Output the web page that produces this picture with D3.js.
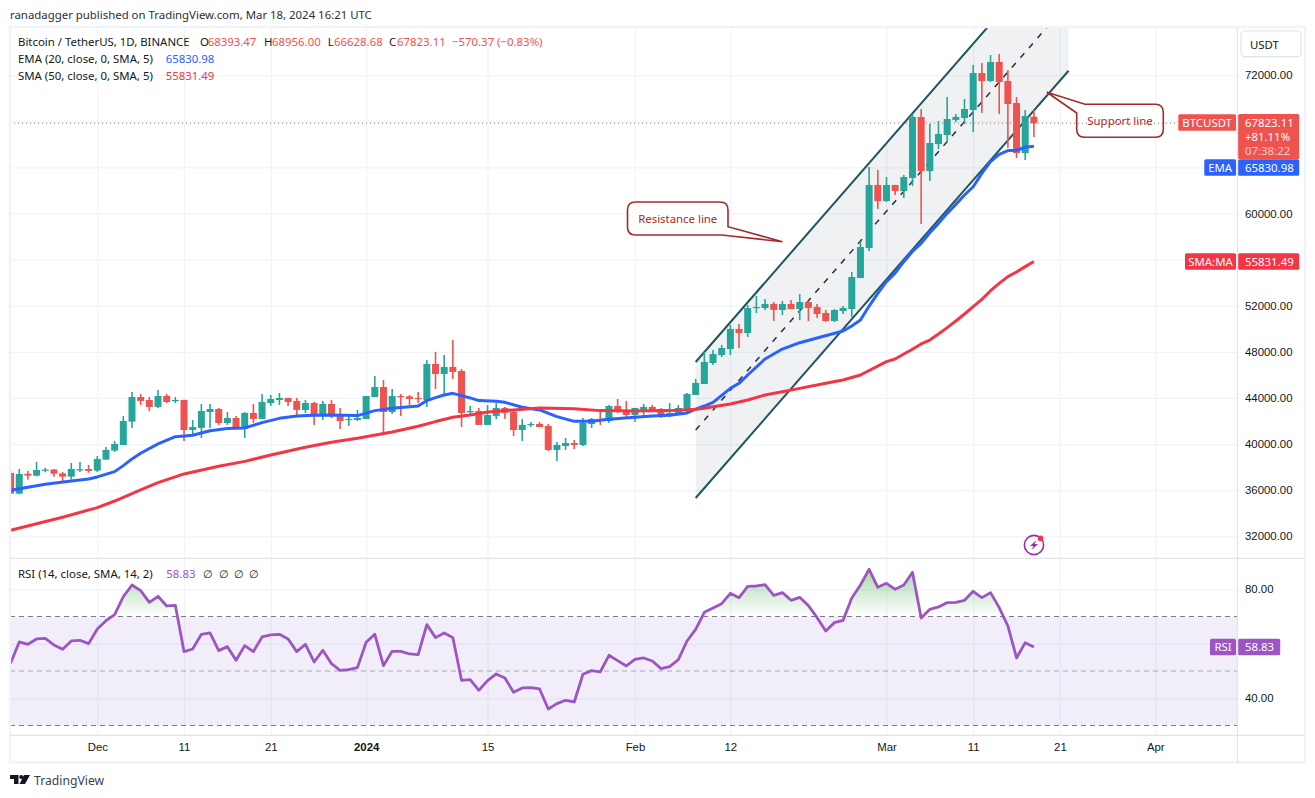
<!DOCTYPE html>
<html>
  <head>
    <meta charset="utf-8" />
    <title>Bitcoin / TetherUS, 1D</title>
    <script src="https://d3js.org/d3.v7.min.js"></script>
    <style>
      html, body { margin: 0; background: #fff; }
      svg { display: block; font-family: "Noto Sans", sans-serif; }
      text { fill: #131722; font-size: 11.4px; }
    </style>
  </head>
  <body>
    <svg width="1315" height="798"></svg>

    <script>
      // Daily candles, Nov 21 2023 to Mar 18 2024
      const firstDay = new Date(Date.UTC(2023, 10, 21));
      const opens = [
        37490, 35700, 37430, 37260, 37700, 37790, 37450, 37175, 37760, 37840,
        37700, 38650, 39430, 39920, 41945, 44080, 43820, 43220, 44170, 43740, 43820, 41220, 41400, 42780, 43040, 41830, 42260, 41310, 42700, 42180, 43560, 43820, 44000, 43740, 42960, 43560, 42520, 43480, 42610, 42120, 42090,
        42180, 44080, 44950, 42780, 44170, 44130, 44000, 43820, 46950, 46080, 46690, 46340, 42780, 42870, 41660, 42440, 43130, 42780, 41220, 41660, 41740, 41570, 39490, 39830, 40090, 39920, 41740, 42180, 42000, 43300, 42960,
        42520, 42960, 43220, 43040, 42520, 42610, 42960, 44260, 45210, 47030, 47720, 48245, 49980, 49630, 51800, 51800, 52150, 51630, 52150, 51710, 52320, 51890, 51370, 50670, 51540, 51710, 54400, 57000, 62470,
        61080, 62470, 61950, 63080, 68370, 63680, 66020, 66800, 68110, 68280, 68970, 72180, 71490, 73140, 71490, 69580, 65240, 68393.47,
      ];
      const highs = [
        37670, 37840, 37670, 38450, 37930, 37840, 37580, 38360, 38450, 38190,
        38970, 39750, 40270, 42440, 44520, 44340, 44080, 44690, 44340, 44080, 43850, 42090, 43480, 43480, 43130, 42780, 42440, 42780, 43480, 44340, 44260, 44430, 44020, 44000, 43820, 43650, 43740, 43820, 43130, 42520, 42960,
        44180, 45900, 45560, 44780, 44340, 44260, 44520, 47290, 47990, 47730, 49030, 46510, 43300, 43130, 43390, 43560, 43220, 42960, 42180, 41920, 41920, 41740, 40180, 40530, 40350, 42260, 42260, 42870, 43390, 43910, 43740,
        43140, 43480, 43390, 43130, 43560, 43390, 44430, 45650, 47990, 48160, 48590, 50330, 50410, 52060, 52840, 52580, 52320, 52410, 52490, 53010, 52410, 52150, 51630, 51710, 51970, 54920, 57610, 64030, 63770,
        63160, 62480, 63340, 68630, 69060, 67760, 68020, 70100, 68630, 69930, 72880, 73050, 73740, 73830, 72440, 70100, 68970, 68956,
      ];
      const lows = [
        35700, 35650, 36915, 37200, 37550, 37175, 36710, 36915, 37580, 37520,
        37580, 38650, 39310, 39920, 41400, 43390, 42870, 43130, 43560, 43560, 40270, 40700, 40530, 41400, 41660, 41660, 41310, 40530, 41830, 42180, 43300, 43390, 43300, 42440, 42700, 41660, 42090, 42260, 41310, 41570, 42000,
        42170, 44080, 40790, 42610, 42440, 43390, 43560, 43220, 44780, 44340, 45650, 41480, 42440, 41650, 41650, 42180, 42180, 40700, 40270, 41480, 41470, 39400, 38530, 39490, 39570, 39830, 41400, 41660, 41830, 42700, 42260,
        41920, 42520, 42780, 42260, 42350, 42600, 42780, 44250, 45200, 46860, 47550, 47720, 48330, 49290, 51370, 51630, 50670, 51190, 51700, 50760, 50670, 50930, 50590, 50590, 51280, 51020, 54400, 56740, 60390,
        60990, 61600, 61340, 62380, 59090, 62820, 65590, 66200, 67930, 67760, 67060, 68710, 71400, 68630, 65680, 64810, 64640, 66628.68,
      ];
      const closes = [
        35700, 37410, 37260, 37750, 37790, 37430, 37175, 37840, 37810, 37670,
        38710, 39490, 40010, 42000, 44080, 43740, 43220, 44170, 43650, 43820, 41220, 41480, 42870, 43040, 41830, 42260, 41310, 42700, 42180, 43650, 43910, 44000, 43650, 42960, 43560, 42440, 43480, 42520, 42000, 42180, 42260,
        44170, 44950, 42780, 44170, 44080, 43910, 43910, 46950, 46080, 46690, 46250, 42700, 42870, 41660, 42520, 43130, 42700, 41220, 41660, 41740, 41480, 39490, 39920, 40090, 39920, 41830, 42180, 42000, 43300, 42780, 42520,
        43130, 43220, 42870, 42520, 42700, 43130, 44340, 45300, 47120, 47810, 48330, 49980, 49630, 51800, 51890, 52150, 51630, 52150, 51710, 52320, 51800, 51280, 50670, 51630, 51800, 54490, 57090, 62470, 61080,
        62470, 61950, 63160, 68370, 63680, 66110, 66890, 68190, 68370, 69060, 72180, 71490, 73140, 71400, 69490, 65240, 68450, 67823.11,
      ];

      // RSI, one value per candle
      const rsiValues = [
        52.84, 60.67, 59.82, 61.77, 62.02, 59.57, 57.98, 61.04, 61.28, 60.06,
        65.44, 68.5, 70.7, 77.31, 81.59, 79.51, 75.23, 77.43, 73.88, 74.13, 57.13, 58.1, 63.49, 63.98, 57.49, 58.96, 53.94, 59.33, 57.13, 62.51, 63.24, 63.49, 61.77, 57.13, 59.82, 53.33, 57.61, 52.72, 50.28, 50.52, 51.25,
        60.55, 63.49, 51.99, 57.25, 57.25, 56.27, 56.02, 67.03, 62.26, 63.98, 62.26, 46.61, 46.85, 42.94, 46.48, 48.93, 47.46, 42.2, 43.79, 43.91, 43.42, 36.09, 38.04, 39.27, 38.65, 48.81, 50.15, 49.66, 55.78, 53.82, 51.87,
        54.31, 54.8, 53.7, 50.89, 51.62, 54.19, 61.04, 65.32, 71.56, 73.15, 74.74, 78.53, 76.94, 81.1, 81.22, 81.71, 77.8, 78.78, 75.96, 77.06, 74.01, 69.6, 64.71, 67.77, 68.62, 76.82, 81.59, 87.34, 80.73,
        82.2, 80, 81.59, 86.24, 69.48, 72.66, 73.52, 75.11, 75.23, 75.96, 79.27, 76.94, 78.78, 73.27, 66.54, 54.8, 60.43, 58.83,
      ];

      // Moving averages, read at the days where the line bends
      const emaDates = [
        "2023-11-21", "2023-11-25", "2023-11-28", "2023-11-30", "2023-12-01", "2023-12-03", "2023-12-04", "2023-12-05", "2023-12-06", "2023-12-08", "2023-12-10", "2023-12-12", "2023-12-14", "2023-12-16", "2023-12-18", "2023-12-20", "2023-12-22", "2023-12-24", "2023-12-26", "2023-12-28", "2023-12-31",
        "2024-01-02", "2024-01-04", "2024-01-07", "2024-01-08", "2024-01-09", "2024-01-10", "2024-01-11", "2024-01-12", "2024-01-13", "2024-01-14", "2024-01-16", "2024-01-17", "2024-01-19", "2024-01-21", "2024-01-23", "2024-01-25", "2024-01-27", "2024-01-29",
        "2024-02-01", "2024-02-03", "2024-02-05", "2024-02-07", "2024-02-08", "2024-02-09", "2024-02-10", "2024-02-12", "2024-02-13", "2024-02-14", "2024-02-16", "2024-02-18", "2024-02-20", "2024-02-22", "2024-02-25", "2024-02-26", "2024-02-27", "2024-02-28", "2024-02-29",
        "2024-03-01", "2024-03-02", "2024-03-03", "2024-03-04", "2024-03-05", "2024-03-06", "2024-03-07", "2024-03-08", "2024-03-09", "2024-03-10", "2024-03-11", "2024-03-12", "2024-03-13", "2024-03-14", "2024-03-15", "2024-03-16", "2024-03-17", "2024-03-18",
      ];
      const emaValues = [
        35990, 36510, 36800, 36970, 37150, 37610, 38130, 38710, 39200, 40010, 40640, 40760, 41160, 41340, 41400, 41860, 42230, 42440, 42490, 42520, 42470,
        42900, 43100, 43300, 43770, 44030, 44260, 44400, 44200, 44000, 43770, 43710, 43620, 43190, 42960, 42380, 41970, 41970, 42150,
        42320, 42440, 42490, 42700, 43020, 43300, 43620, 44830, 45270, 45990, 47380, 48240, 48790, 49200, 49810, 50240, 50760, 51970, 53070,
        54080, 54830, 55820, 56700, 57410, 58330, 59140, 60010, 60790, 61600, 62320, 63480, 64490, 65130, 65450, 65480, 65740, 65830.98,
      ];
      const smaDates = [
        "2023-11-21", "2023-11-27", "2023-12-01", "2023-12-03", "2023-12-06", "2023-12-08", "2023-12-11", "2023-12-15", "2023-12-18", "2023-12-21", "2023-12-25", "2023-12-28", "2023-12-31",
        "2024-01-04", "2024-01-07", "2024-01-09", "2024-01-11", "2024-01-13", "2024-01-15", "2024-01-18", "2024-01-21", "2024-01-25", "2024-01-28",
        "2024-02-01", "2024-02-05", "2024-02-08", "2024-02-09", "2024-02-10", "2024-02-12", "2024-02-14", "2024-02-16", "2024-02-18", "2024-02-20", "2024-02-23", "2024-02-25", "2024-02-27",
        "2024-03-01", "2024-03-02", "2024-03-03", "2024-03-04", "2024-03-05", "2024-03-06", "2024-03-07", "2024-03-08", "2024-03-09", "2024-03-10", "2024-03-11", "2024-03-12", "2024-03-13", "2024-03-14", "2024-03-15", "2024-03-16", "2024-03-17", "2024-03-18",
      ];
      const smaValues = [
        32520, 33650, 34490, 35060, 36020, 36650, 37410, 38070, 38500, 39050, 39720, 40150, 40500,
        41050, 41540, 41950, 42320, 42520, 42780, 42960, 43130, 43070, 42900,
        42870, 42900, 43020, 43100, 43240, 43470, 43820, 44260, 44540, 44830, 45270, 45560, 45990,
        47150, 47380, 47810, 48220, 48680, 49020, 49550, 50100, 50670, 51280, 51920, 52550, 53300, 53940, 54520, 54920, 55390, 55831.49,
      ];

      // Rising channel drawn on the chart: start and end of each line
      const channelDates = ["2024-02-08", "2024-03-22"];
      const channelUpper = [47117, 84210];
      const channelMiddle = [41220, 78300];
      const channelLower = [35320, 72380];

      // Axis ticks
      const priceGrid = [32000, 36000, 40000, 44000, 48000, 52000, 56000, 60000, 64000, 68000, 72000];
      const priceLabels = [32000, 36000, 40000, 44000, 48000, 52000, 60000, 72000];
      const rsiGrid = [40, 60, 80];
      const rsiLabels = [40, 80];
      const rsiLevels = [70, 50, 30];
      const timeTicks = ["2023-12-01", "2023-12-11", "2023-12-21", "2024-01-01", "2024-01-15", "2024-02-01", "2024-02-12", "2024-03-01", "2024-03-11", "2024-03-21", "2024-04-01"];
      const timeLabels = ["Dec", "11", "21", "2024", "15", "Feb", "12", "Mar", "11", "21", "Apr"];

      const colors = { up: "#26a69a", down: "#ef5350", ema: "#2962ff", sma: "#f23645", rsi: "#9c55c2", grid: "#f0f3fa", border: "#e0e3eb", note: "#a52a2a" };

      const parseDay = d3.utcParse("%Y-%m-%d");
      const days = opens.map((_, i) => d3.utcDay.offset(firstDay, i));

      const svg = d3.select("svg");

      // Pane edges
      const paneLeft = 10, paneRight = 1237.5, paneTop = 28, mainBottom = 558.3, rsiBottom = 735.3, frameBottom = 762.5;

      const x = d3.scaleUtc().domain([parseDay("2023-12-01"), parseDay("2024-04-01")]).range([97.3, 1155.3]);
      const y = d3.scaleLinear().domain([32000, 72000]).range([536.3, 75.1]);
      const yRsi = d3.scaleLinear().domain([40, 80]).range([698.3, 589.3]);

      const defs = svg.append("defs");
      defs.append("clipPath").attr("id", "mainClip").append("rect")
        .attr("x", paneLeft).attr("y", paneTop).attr("width", paneRight - paneLeft).attr("height", mainBottom - paneTop);
      defs.append("clipPath").attr("id", "rsiClip").append("rect")
        .attr("x", paneLeft).attr("y", mainBottom).attr("width", paneRight - paneLeft).attr("height", rsiBottom - mainBottom);
      defs.append("clipPath").attr("id", "obClip").append("rect")
        .attr("x", paneLeft).attr("y", mainBottom).attr("width", paneRight - paneLeft).attr("height", yRsi(70) - mainBottom);
      const grad = defs.append("linearGradient").attr("id", "obFill")
        .attr("gradientUnits", "userSpaceOnUse").attr("x1", 0).attr("x2", 0).attr("y1", yRsi(88)).attr("y2", yRsi(70));
      grad.append("stop").attr("offset", 0).attr("stop-color", "#4caf50").attr("stop-opacity", 0.5);
      grad.append("stop").attr("offset", 1).attr("stop-color", "#4caf50").attr("stop-opacity", 0);

      // Grid lines come from axes with full length ticks
      function gridAxis(axis) {
        return (g) => {
          g.call(axis);
          g.select(".domain").remove();
          g.selectAll("text").remove();
          g.selectAll("line").attr("stroke", colors.grid).attr("stroke-width", 1.2);
        };
      }
      const timeValues = timeTicks.map(parseDay);
      svg.append("g").attr("transform", `translate(0,${paneTop})`)
        .call(gridAxis(d3.axisBottom(x).tickValues(timeValues).tickSize(rsiBottom - paneTop)));
      svg.append("g").attr("transform", `translate(${paneLeft},0)`)
        .call(gridAxis(d3.axisRight(y).tickValues(priceGrid).tickSize(paneRight - paneLeft)));
      svg.append("g").attr("transform", `translate(${paneLeft},0)`)
        .call(gridAxis(d3.axisRight(yRsi).tickValues(rsiGrid).tickSize(paneRight - paneLeft)));

      // Main pane
      const main = svg.append("g").attr("clip-path", "url(#mainClip)");

      const channelX = channelDates.map((d) => x(parseDay(d)));
      main.append("path")
        .attr("d", `M${channelX[0]},${y(channelUpper[0])}L${channelX[1]},${y(channelUpper[1])}L${channelX[1]},${y(channelLower[1])}L${channelX[0]},${y(channelLower[0])}Z`)
        .attr("fill", "#787b86").attr("fill-opacity", 0.11);
      [channelUpper, channelLower].forEach((line) => {
        main.append("line")
          .attr("x1", channelX[0]).attr("y1", y(line[0]))
          .attr("x2", channelX[1]).attr("y2", y(line[1]))
          .attr("stroke", "#1f5560").attr("stroke-width", 2);
      });
      main.append("line")
        .attr("x1", channelX[0]).attr("y1", y(channelMiddle[0]))
        .attr("x2", channelX[1]).attr("y2", y(channelMiddle[1]))
        .attr("stroke", "#2a2e39").attr("stroke-width", 1.5).attr("stroke-dasharray", "6,7");

      // Candles
      const candle = main.selectAll(".candle").data(days).enter().append("g").attr("class", "candle")
        .attr("fill", (d, i) => (closes[i] >= opens[i] ? colors.up : colors.down))
        .attr("stroke", "none");
      candle.append("rect")
        .attr("x", (d) => x(d) - 0.8).attr("width", 1.6)
        .attr("y", (d, i) => y(highs[i]))
        .attr("height", (d, i) => y(lows[i]) - y(highs[i]));
      candle.append("rect")
        .attr("x", (d) => x(d) - 3.5).attr("width", 7)
        .attr("y", (d, i) => y(Math.max(opens[i], closes[i])))
        .attr("height", (d, i) => Math.max(1.2, Math.abs(y(opens[i]) - y(closes[i]))));

      const priceLine = d3.line().x((d) => x(d.day)).y((d) => y(d.value));
      const emaData = emaDates.map((d, i) => ({ day: parseDay(d), value: emaValues[i] }));
      const smaData = smaDates.map((d, i) => ({ day: parseDay(d), value: smaValues[i] }));
      main.append("path").datum(emaData).attr("d", priceLine)
        .attr("fill", "none").attr("stroke", colors.ema).attr("stroke-width", 3).attr("stroke-linejoin", "round");
      main.append("path").datum(smaData).attr("d", priceLine)
        .attr("fill", "none").attr("stroke", colors.sma).attr("stroke-width", 3).attr("stroke-linejoin", "round");

      // Callouts with their tails
      function callout(label, x0, y0, x1, y1, tip, tail) {
        const r = 8;
        let d = tail.side === "top" ? `M${tail.a},${y0}` : `M${x0 + r},${y0}`;
        d += `L${x1 - r},${y0}Q${x1},${y0} ${x1},${y0 + r}`;
        if (tail.side === "right") d += `L${x1},${tail.a}L${tip[0]},${tip[1]}L${tail.b},${y1}`;
        else d += `L${x1},${y1 - r}Q${x1},${y1} ${x1 - r},${y1}`;
        d += `L${x0 + r},${y1}Q${x0},${y1} ${x0},${y1 - r}`;
        if (tail.side === "top") d += `L${tail.b},${tail.c}L${tip[0]},${tip[1]}Z`;
        else d += `L${x0},${y0 + r}Q${x0},${y0} ${x0 + r},${y0}Z`;
        svg.append("path").attr("d", d).attr("fill", "#fff").attr("stroke", colors.note).attr("stroke-width", 1.6);
        svg.append("text").attr("x", (x0 + x1) / 2).attr("y", (y0 + y1) / 2 + 4)
          .attr("text-anchor", "middle").style("fill", colors.note).text(label);
      }
      callout("Resistance line", 627.5, 202, 728, 235,
        [x(parseDay("2024-02-18")), y(57550)], { side: "right", a: 226.7, b: 721.7 });
      callout("Support line", 1076.7, 104.3, 1163.3, 137.3,
        [x(new Date(Date.UTC(2024, 2, 19, 12))), y(70510)], { side: "top", a: 1085, b: 1076.7, c: 113 });

      // Last price line
      svg.append("line")
        .attr("x1", paneLeft).attr("x2", 1178)
        .attr("y1", y(closes[closes.length - 1])).attr("y2", y(closes[closes.length - 1]))
        .attr("stroke", colors.down).attr("stroke-dasharray", "1,3");

      // Lightning mark
      const bolt = svg.append("g").attr("transform", "translate(1034,545)");
      bolt.append("circle").attr("r", 9.6).attr("fill", "none").attr("stroke", "#9c27b0").attr("stroke-width", 1.6);
      bolt.append("path").attr("d", "M2.5,-5L-4,1H-0.5L-2.5,5L4,-1H0.5Z").attr("fill", "#9c27b0");
      bolt.append("circle").attr("cx", 6.6).attr("cy", -6.6).attr("r", 2.8).attr("fill", colors.sma);

      // RSI pane
      const rsiPane = svg.append("g").attr("clip-path", "url(#rsiClip)");
      rsiPane.append("rect")
        .attr("x", paneLeft).attr("width", paneRight - paneLeft)
        .attr("y", yRsi(70)).attr("height", yRsi(30) - yRsi(70))
        .attr("fill", "#7e57c2").attr("fill-opacity", 0.1);
      rsiLevels.forEach((level) => {
        rsiPane.append("line")
          .attr("x1", paneLeft).attr("x2", paneRight).attr("y1", yRsi(level)).attr("y2", yRsi(level))
          .attr("stroke", "#787b86").attr("stroke-width", 1.1)
          .attr("stroke-opacity", level === 50 ? 0.6 : 1)
          .attr("stroke-dasharray", "5,4");
      });
      rsiPane.append("path").datum(rsiValues)
        .attr("clip-path", "url(#obClip)")
        .attr("d", d3.area().x((d, i) => x(days[i])).y0(yRsi(70)).y1((d) => yRsi(d)))
        .attr("fill", "url(#obFill)");
      rsiPane.append("path").datum(rsiValues)
        .attr("d", d3.line().x((d, i) => x(days[i])).y((d) => yRsi(d)))
        .attr("fill", "none").attr("stroke", colors.rsi).attr("stroke-width", 2.8).attr("stroke-linejoin", "round");

      // Frame and pane dividers
      svg.append("rect").attr("x", paneLeft).attr("y", 27).attr("width", 1295).attr("height", frameBottom - 27)
        .attr("fill", "none").attr("stroke", colors.grid).attr("stroke-width", 2.4);
      [mainBottom, rsiBottom].forEach((v) => {
        svg.append("line").attr("x1", paneLeft).attr("x2", 1305).attr("y1", v).attr("y2", v)
          .attr("stroke", colors.border).attr("stroke-width", 1.2);
      });
      svg.append("line").attr("x1", paneRight).attr("x2", paneRight).attr("y1", paneTop).attr("y2", frameBottom)
        .attr("stroke", colors.border).attr("stroke-width", 1.2);

      // Axis labels
      function labelAxis(g) {
        g.select(".domain").remove();
        g.selectAll("line").remove();
        g.selectAll("text").style("font-size", "11.4px").style("fill", "#131722");
      }
      svg.append("g").attr("transform", `translate(${paneRight},0)`)
        .call(d3.axisRight(y).tickValues(priceLabels).tickFormat(d3.format(".2f")).tickSize(0).tickPadding(7.5))
        .call(labelAxis);
      svg.append("g").attr("transform", `translate(${paneRight},0)`)
        .call(d3.axisRight(yRsi).tickValues(rsiLabels).tickFormat(d3.format(".2f")).tickSize(0).tickPadding(7.5))
        .call(labelAxis);
      svg.append("g").attr("transform", `translate(0,${rsiBottom})`)
        .call(d3.axisBottom(x).tickValues(timeValues).tickFormat((d, i) => timeLabels[i]).tickSize(0).tickPadding(7.5))
        .call(labelAxis)
        .selectAll("text").style("font-weight", (d, i) => (timeLabels[i] === "2024" ? 600 : 400));

      // Tags on the price axis
      function tag(label, value, color, cy, tagLeft) {
        svg.append("rect").attr("x", tagLeft).attr("y", cy - 8.3).attr("width", 1236 - tagLeft).attr("height", 16.6).attr("rx", 1.5).attr("fill", color);
        svg.append("text").attr("x", (tagLeft + 1236) / 2).attr("y", cy + 4).attr("text-anchor", "middle").style("fill", "#fff").text(label);
        if (value) {
          svg.append("rect").attr("x", 1238.2).attr("y", cy - 8.3).attr("width", 61).attr("height", 16.6).attr("rx", 1.5).attr("fill", color);
          svg.append("text").attr("x", 1245).attr("y", cy + 4).style("fill", "#fff").text(value);
        }
      }
      const lastClose = closes[closes.length - 1];
      const lastEma = emaValues[emaValues.length - 1];
      const lastSma = smaValues[smaValues.length - 1];
      const lastRsi = rsiValues[rsiValues.length - 1];
      svg.append("rect").attr("x", 1238.2).attr("y", 114).attr("width", 61).attr("height", 45).attr("rx", 1.5).attr("fill", colors.down);
      tag("BTCUSDT", null, colors.down, 122.5, 1178.3);
      svg.append("text").attr("x", 1245).attr("y", 126.5).style("fill", "#fff").text(lastClose.toFixed(2));
      svg.append("text").attr("x", 1245).attr("y", 140.5).style("fill", "#fff").text("+81.11%");
      svg.append("text").attr("x", 1245).attr("y", 154.5).style("fill", "#fff").style("fill-opacity", 0.7).text("07:38:22");
      tag("EMA", lastEma.toFixed(2), colors.ema, 167.5, 1204.3);
      tag("SMA:MA", lastSma.toFixed(2), colors.sma, 261.5, 1185);

      svg.append("rect").attr("x", 1210).attr("y", yRsi(lastRsi) - 8.3).attr("width", 26).attr("height", 16.6).attr("rx", 1.5).attr("fill", colors.rsi);
      svg.append("text").attr("x", 1223).attr("y", yRsi(lastRsi) + 4).attr("text-anchor", "middle").style("fill", "#fff").text("RSI");
      svg.append("rect").attr("x", 1238.2).attr("y", yRsi(lastRsi) - 8.3).attr("width", 42).attr("height", 16.6).attr("rx", 1.5).attr("fill", colors.rsi);
      svg.append("text").attr("x", 1245).attr("y", yRsi(lastRsi) + 4).style("fill", "#fff").text(lastRsi.toFixed(2));

      // Currency button
      svg.append("rect").attr("x", 1241).attr("y", 31).attr("width", 60).attr("height", 25.7).attr("rx", 4)
        .attr("fill", "#fff").attr("stroke", colors.border).attr("stroke-width", 1.2);
      svg.append("text").attr("x", 1250).attr("y", 48.5).text("USDT");

      // Header and legend text
      function put(px, py, str, color) {
        svg.append("text").attr("x", px).attr("y", py).style("fill", color || "#131722").text(str);
      }
      put(10, 19, "ranadagger published on TradingView.com, Mar 18, 2024 16:21 UTC", "#2a2e39");
      put(18, 46, "Bitcoin / TetherUS, 1D, BINANCE");
      [["O", 200, 207.7, "68393.47"], ["H", 264, 272, "68956.00"], ["L", 327.7, 334, "66628.68"], ["C", 389, 397, "67823.11"]].forEach((o) => {
        put(o[1], 46, o[0]);
        put(o[2], 46, o[3], colors.down);
      });
      put(452, 46, "−570.37 (−0.83%)", colors.down);
      put(18, 63, "EMA (20, close, 0, SMA, 5)");
      put(165.7, 63, lastEma.toFixed(2), colors.ema);
      put(18, 80, "SMA (50, close, 0, SMA, 5)");
      put(165.7, 80, lastSma.toFixed(2), colors.sma);
      put(18, 578, "RSI (14, close, SMA, 14, 2)");
      put(166.3, 578, lastRsi.toFixed(2), colors.rsi);
      [203, 218.5, 233.5, 249].forEach((px) => put(px, 578, "∅"));

      // TradingView mark
      svg.append("path")
        .attr("d", "M10,775H18.5V784H14V779H10ZM24,775H30L25,784H19.5Z")
        .attr("fill", "#131722");
      svg.append("circle").attr("cx", 21.2).attr("cy", 777).attr("r", 2).attr("fill", "#131722");
      svg.append("text").attr("x", 34).attr("y", 785).style("font-size", "12.2px").style("fill", "#3b3f4a").text("TradingView");
    </script>
  </body>
</html>
